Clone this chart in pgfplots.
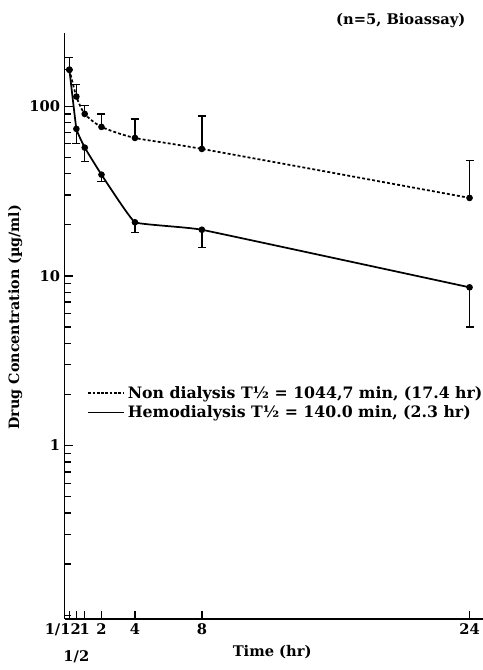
\documentclass[border=0pt]{standalone}
\usepackage{fontspec}
\setmainfont{DejaVu Serif}
\usepackage{pgfplots}
\pgfplotsset{compat=1.18}
\begin{document}
\begin{tikzpicture}[font=\fontsize{11}{13}\selectfont\bfseries]
\begin{axis}[
  scale only axis, width=313.7pt, height=439.5pt,
  at={(0pt,0pt)}, anchor=south west,
  ymode=log, xmin=-0.2, xmax=24.8, ymin=0.095, ymax=270,
  axis x line*=bottom, axis y line*=left,
  axis line style={-, line width=1.1pt},
  tick align=inside,
  tick label style={font=\fontsize{11}{13}\selectfont\bfseries},
  xtick={0.08333,1,2,4,8,24},
  xticklabels={\makebox[0pt]{1/12\hspace{10pt}},1,2,4,8,24},
  extra x ticks={0.5}, extra x tick labels={1/2},
  extra x tick style={xticklabel style={yshift=-20pt}},
  ytick={1,10,100}, yticklabels={1,10,100},
  yminorticks=true,
  minor ytick={0.1,0.2,0.3,0.4,0.5,0.6,0.7,0.8,0.9,2,3,4,5,6,7,8,9,20,30,40,50,60,70,80,90},
  major tick length=6pt, minor tick length=4.5pt,
  every tick/.style={black, line width=1pt},
  xlabel={Time (hr)},
  xlabel style={at={(rel axis cs:0.496,-0.056)}, anchor=center, font=\fontsize{11}{13}\selectfont\bfseries},
  ylabel={Drug Concentration (µg/ml)},
  ylabel style={at={(rel axis cs:-0.118,0.515)}, anchor=center, font=\fontsize{10.7}{13}\selectfont\bfseries},
  legend style={at={(rel axis cs:0.045,0.407)}, anchor=north west, draw=none, fill=none,
    font=\fontsize{11.8}{15}\selectfont\bfseries, row sep=0pt},
  legend cell align=left,
  legend image code/.code={\draw[#1] (0pt,0pt) -- (27pt,0pt);},
  clip=false,
]
\addlegendimage{black, line width=1pt, dash pattern=on 2pt off 1.2pt}
\addlegendentry{Non dialysis T½ = 1044,7 min, (17.4 hr)}
\addlegendimage{black, line width=1pt}
\addlegendentry{Hemodialysis T½ = 140.0 min, (2.3 hr)}

% Non dialysis
\addplot[forget plot, black, line width=1.3pt, dash pattern=on 2.2pt off 1.6pt, smooth, tension=0.4,
  mark=*, mark size=1.8pt, mark options={solid},
  error bars/.cd, y dir=plus, y explicit,
  error bar style={line width=1pt, solid},
  error mark options={rotate=90, mark size=3pt, line width=1pt, solid}]
  table[x=x, y=y, y error plus=e] {
x y e
0.08333 164 29
0.5 114 20
1 90 11
2 75.5 14.5
4 65 19
8 56 31.5
24 28.8 19
};
% Hemodialysis
\addplot[forget plot, black, line width=1.3pt, smooth, tension=0.15,
  mark=*, mark size=1.8pt,
  error bars/.cd, y dir=minus, y explicit,
  error bar style={line width=1pt},
  error mark options={rotate=90, mark size=3pt, line width=1pt}]
  table[x=x, y=y, y error minus=e] {
x y e
0.08333 164 0
0.5 73.5 13.5
1 57 10
2 39.5 3.5
4 20.7 2.7
8 18.7 4
24 8.56 3.56
};
\node[anchor=east] at (rel axis cs:0.969,1.022) {(n=5, Bioassay)};
\end{axis}
\pgfresetboundingbox
\path (-48.5pt,-38.25pt) rectangle (313.7pt,464.25pt);
\end{tikzpicture}
\end{document}
